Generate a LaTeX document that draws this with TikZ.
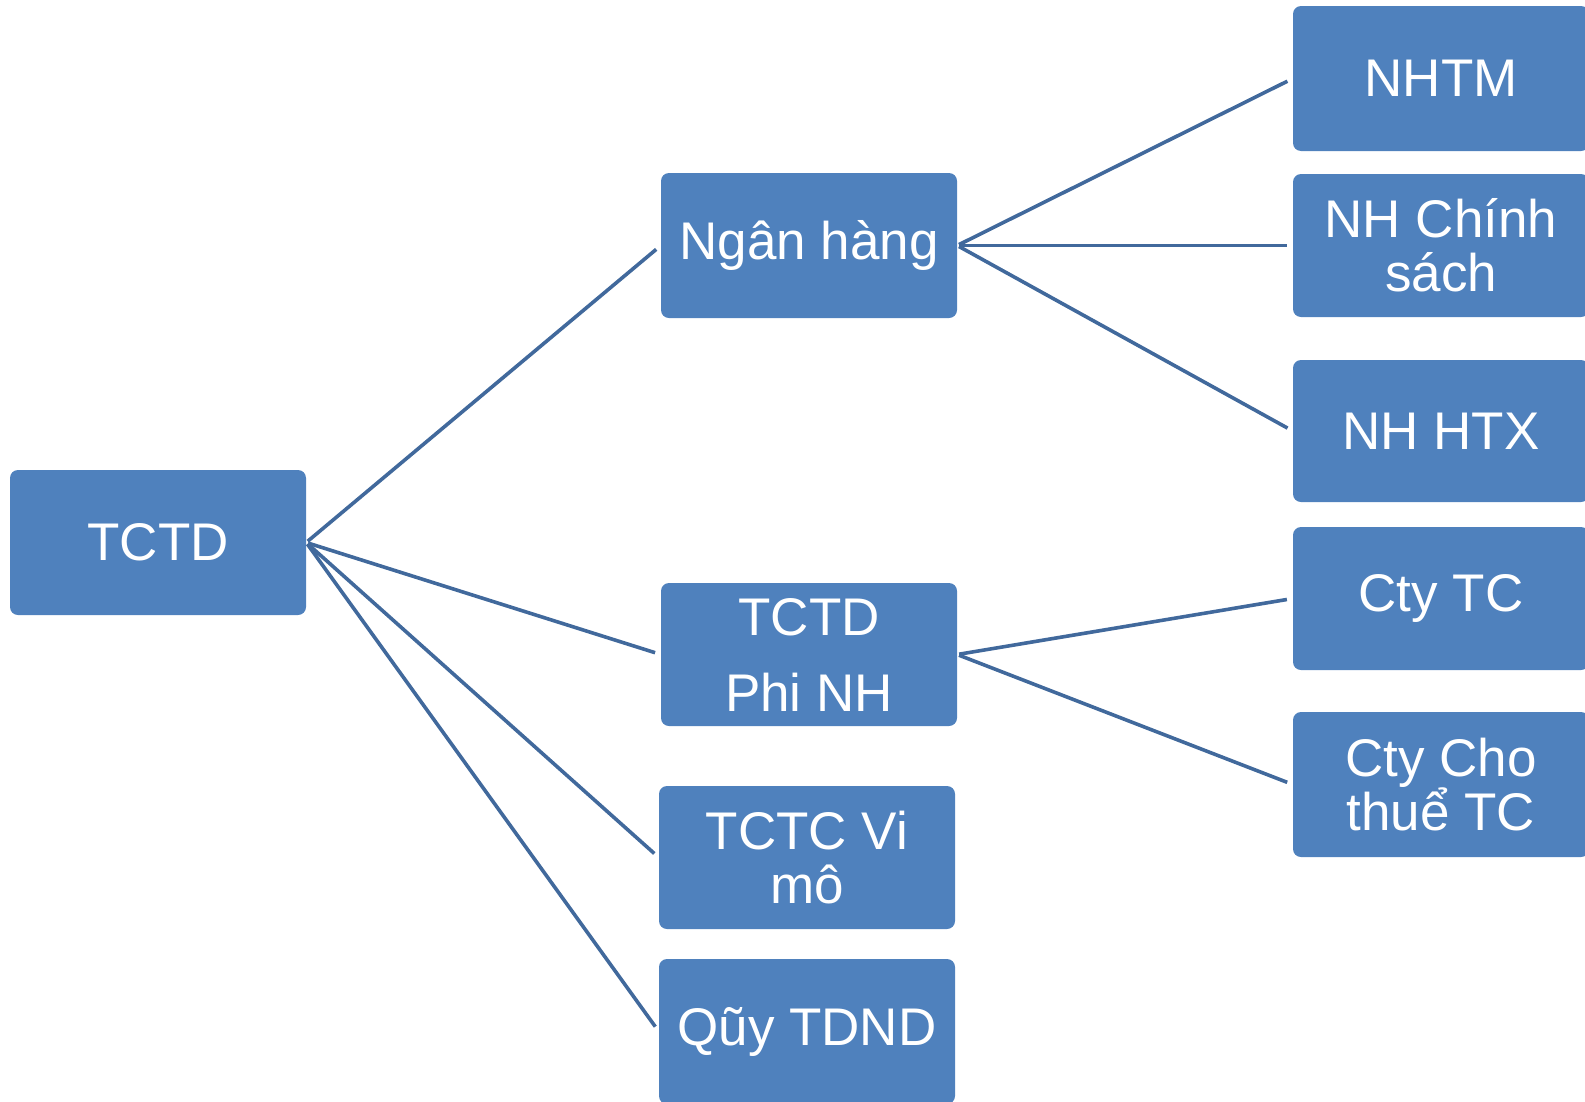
\documentclass[tikz,border=0pt]{standalone}
\usepackage{fontspec}
\setmainfont{Liberation Sans}
\definecolor{boxfill}{HTML}{4F81BD}
\definecolor{linkline}{HTML}{41699C}
\begin{document}
\begin{tikzpicture}[x=1pt,y=-1pt,
  orgbox/.style={fill=boxfill, draw=none, rounded corners=8pt,
    minimum width=296pt, minimum height=145pt, inner sep=0pt,
    text=white, align=center, font=\fontsize{53}{54}\selectfont},
  link/.style={draw=linkline, line width=3.6pt, shorten <=2pt, shorten >=6pt}]
\useasboundingbox (0,0) rectangle (1585,1101);
\clip (0,0) rectangle (1585,1101);

% root
\node[orgbox] (tctd) at (158,542.5) {TCTD};

% second level
\node[orgbox] (nganhang) at (809,245.5) {Ngân hàng};
\node[orgbox, minimum height=143pt] (phinh) at (809,654.5) {TCTD\\[22pt]Phi NH};
\node[orgbox, minimum height=143pt] (vimo) at (807,857.5) {TCTC Vi\\mô};
\node[orgbox] (quy) at (807,1031.5) {Qũy TDND};

% third level
\node[orgbox] (nhtm) at (1441,78.5) {NHTM};
\node[orgbox, minimum height=143pt] (nhcs) at (1441,245.5) {NH Chính\\sách};
\node[orgbox, minimum height=142pt] (htx) at (1441,431) {NH HTX};
\node[orgbox, minimum height=143pt] (ctytc) at (1441,598.5) {Cty TC};
\node[orgbox] (chothue) at (1441,784.5) {Cty Cho\\thuể TC};

% connectors
\draw[link] (tctd.east) -- (nganhang.west);
\draw[link] (tctd.east) -- (phinh.west);
\draw[link] (tctd.east) -- (vimo.west);
\draw[link] (tctd.east) -- (quy.west);
\draw[link] (nganhang.east) -- (nhtm.west);
\draw[link] (nganhang.east) -- (nhcs.west);
\draw[link] (nganhang.east) -- (htx.west);
\draw[link] (phinh.east) -- (ctytc.west);
\draw[link] (phinh.east) -- (chothue.west);
\end{tikzpicture}
\end{document}
